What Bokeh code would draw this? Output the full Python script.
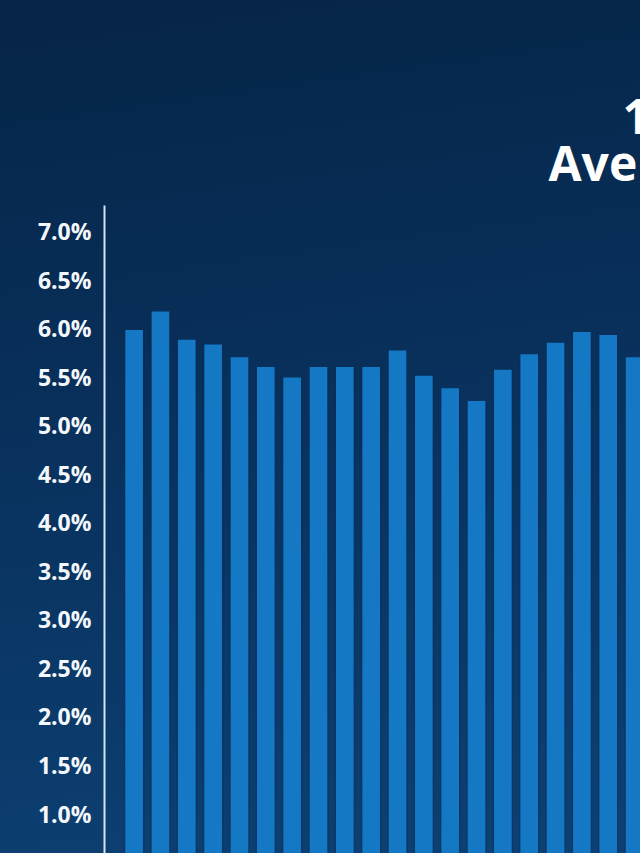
from bokeh.plotting import figure
from bokeh.models import Range1d, FixedTicker, PrintfTickFormatter, Title
from bokeh.embed import file_html
from bokeh.resources import INLINE

# ---- data ----
periods = list(range(1, 21))
rates = [5.98, 6.17, 5.88, 5.83, 5.70, 5.60, 5.49, 5.60, 5.60, 5.60,
         5.77, 5.51, 5.38, 5.25, 5.57, 5.73, 5.85, 5.96, 5.93, 5.70]
y_ticks = [0.0, 0.5, 1.0, 1.5, 2.0, 2.5, 3.0, 3.5, 4.0, 4.5, 5.0, 5.5, 6.0, 6.5, 7.0]
title_line1 = "15-Year Fixed Mortgage Rates"
title_line2 = "Average by Month"

p = figure(width=640, height=853, output_backend="svg", toolbar_location=None,
           x_range=Range1d(-0.124, 20.225), y_range=Range1d(0.588, 7.263),
           x_axis_location=None, min_border_left=104, min_border_top=205,
           min_border_right=0, min_border_bottom=0)

p.styles = {"background": "linear-gradient(172deg, #062447 0%, #072b52 25%, #093360 55%, #0b3b6b 80%, #0d4174 100%)"}
p.border_fill_alpha = 0
p.background_fill_alpha = 0
p.outline_line_color = None
p.grid.visible = False

# subtle shadow behind bars
p.vbar(x=periods, top=rates, bottom=0, width=0.78, fill_color="#062a55",
       fill_alpha=0.35, line_color=None)
p.vbar(x=periods, top=rates, bottom=0, width=0.67, fill_color="#1578c4",
       line_color=None)

ax = p.yaxis[0]
ax.ticker = FixedTicker(ticks=y_ticks)
ax.formatter = PrintfTickFormatter(format="%.1f%%")
ax.major_tick_line_color = None
ax.minor_tick_line_color = None
ax.axis_line_color = "#d3e4f2"
ax.axis_line_width = 2
ax.major_label_text_font = "Open Sans"
ax.major_label_text_font_style = "bold"
ax.major_label_text_font_size = "23px"
ax.major_label_text_color = "#f4f8fc"
ax.major_label_standoff = 7

t2 = Title(text=title_line2, align="left", offset=444, text_font="Open Sans",
           text_font_style="bold", text_font_size="48px", text_color="#ffffff",
           standoff=22)
t1 = Title(text=title_line1, align="left", offset=518, text_font="Open Sans",
           text_font_style="bold", text_font_size="48px", text_color="#ffffff",
           standoff=-62)
p.add_layout(t2, "above")
p.add_layout(t1, "above")

open("out.html", "w").write(file_html(p, INLINE))
